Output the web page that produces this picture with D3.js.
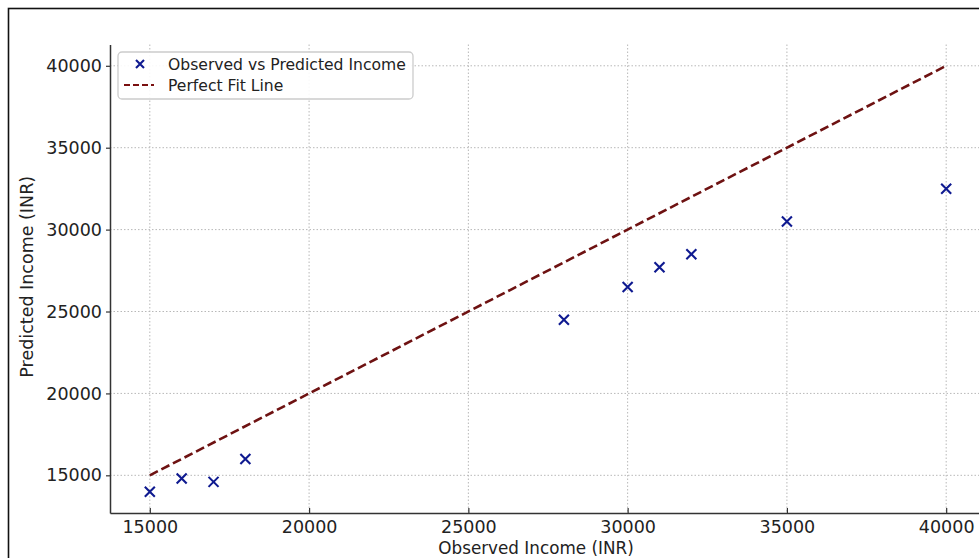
<!DOCTYPE html>
<html>
<head>
<meta charset="utf-8">
<script src="https://cdn.jsdelivr.net/npm/d3@7"></script>
<style>
  html, body { margin: 0; padding: 0; background: #fff; }
  svg { display: block; font-family: "DejaVu Sans", sans-serif; }
</style>
</head>
<body>
<svg id="chart" width="979" height="558"></svg>
<script>
// ---- data ----
const observed  = [15000, 16000, 17000, 18000, 28000, 30000, 31000, 32000, 35000, 40000];
const predicted = [14000, 14800, 14600, 16000, 24500, 26500, 27700, 28500, 30500, 32500];
const fitLine   = [15000, 40000];
const xTicks    = [15000, 20000, 25000, 30000, 35000, 40000];
const yTicks    = [15000, 20000, 25000, 30000, 35000, 40000];
const seriesNames = ["Observed vs Predicted Income", "Perfect Fit Line"];
const xLabel = "Observed Income (INR)";
const yLabel = "Predicted Income (INR)";

(function () {
// ---- layout ----
const svg = d3.select("#chart");
const pLeft = 110, pRight = 986, pTop = 44.5, pBottom = 513;

svg.append("rect").attr("x", 8.5).attr("y", 8.5).attr("width", 1000).attr("height", 1000)
  .attr("fill", "none").attr("stroke", "#111").attr("stroke-width", 1.6);

const x = d3.scaleLinear().domain([13750, 41250]).range([pLeft, pRight]);
const y = d3.scaleLinear().domain([12700, 41300]).range([pBottom, pTop]);

// grid
const grid = svg.append("g");
grid.selectAll(".gx").data(xTicks).join("line")
  .attr("x1", d => x(d)).attr("x2", d => x(d)).attr("y1", pTop).attr("y2", pBottom)
  .attr("stroke", "#b8b8b8").attr("stroke-width", 1).attr("stroke-dasharray", "1.5,2");
grid.selectAll(".gy").data(yTicks).join("line")
  .attr("x1", pLeft).attr("x2", pRight).attr("y1", d => y(d)).attr("y2", d => y(d))
  .attr("stroke", "#b8b8b8").attr("stroke-width", 1).attr("stroke-dasharray", "1.5,2");

// axes
const xAxis = svg.append("g").attr("transform", `translate(0,${pBottom})`)
  .call(d3.axisBottom(x).tickValues(xTicks).tickFormat(d3.format("d")).tickSizeInner(-5).tickSizeOuter(0).tickPadding(8));
const yAxis = svg.append("g").attr("transform", `translate(${pLeft},0)`)
  .call(d3.axisLeft(y).tickValues(yTicks).tickFormat(d3.format("d")).tickSizeInner(4).tickSizeOuter(0).tickPadding(4));
[xAxis, yAxis].forEach(a => {
  a.select(".domain").attr("stroke", "#333").attr("stroke-width", 1.5);
  a.selectAll(".tick line").attr("stroke", "#333").attr("stroke-width", 1.2);
  a.selectAll("text").attr("font-family", "DejaVu Sans").attr("font-size", 17.5).attr("fill", "#222");
});

// axis labels
svg.append("text").attr("x", (pLeft + pRight) / 2 - 12).attr("y", 554)
  .attr("text-anchor", "middle").attr("font-size", 16.8).attr("fill", "#222").text(xLabel);
svg.append("text").attr("transform", `translate(33,${(pTop + pBottom) / 2 - 2}) rotate(-90)`)
  .attr("text-anchor", "middle").attr("font-size", 17.5).attr("fill", "#222").text(yLabel);

// perfect fit line
svg.append("line")
  .attr("x1", x(fitLine[0])).attr("y1", y(fitLine[0]))
  .attr("x2", x(fitLine[1])).attr("y2", y(fitLine[1]))
  .attr("stroke", "#6e1212").attr("stroke-width", 2.6).attr("stroke-dasharray", "9,4");

// markers
const pts = observed.map((o, i) => ({ o, p: predicted[i] }));
const mk = 5;
const markG = svg.append("g");
pts.forEach(d => {
  const cx = x(d.o), cy = y(d.p);
  markG.append("path")
    .attr("d", `M${cx - mk},${cy - mk}L${cx + mk},${cy + mk}M${cx - mk},${cy + mk}L${cx + mk},${cy - mk}`)
    .attr("stroke", "#0f1a90").attr("stroke-width", 2.1);
});

// legend
const lg = svg.append("g");
lg.append("rect").attr("x", 118).attr("y", 52).attr("width", 295).attr("height", 47)
  .attr("rx", 4).attr("fill", "#fff").attr("fill-opacity", 0.9)
  .attr("stroke", "#cccccc").attr("stroke-width", 1.3);
const lx = 140, ly1 = 64, ly2 = 85;
lg.append("path")
  .attr("d", `M${lx - 4},${ly1 - 4}L${lx + 4},${ly1 + 4}M${lx - 4},${ly1 + 4}L${lx + 4},${ly1 - 4}`)
  .attr("stroke", "#0f1a90").attr("stroke-width", 2.1);
lg.append("line").attr("x1", 124).attr("x2", 154).attr("y1", ly2).attr("y2", ly2)
  .attr("stroke", "#7a1010").attr("stroke-width", 2).attr("stroke-dasharray", "6,3");
lg.append("text").attr("x", 168).attr("y", ly1 + 5.5).attr("font-size", 15.6).attr("fill", "#222").text(seriesNames[0]);
lg.append("text").attr("x", 168).attr("y", ly2 + 5.5).attr("font-size", 15.6).attr("fill", "#222").text(seriesNames[1]);
})();
</script>
</body>
</html>
